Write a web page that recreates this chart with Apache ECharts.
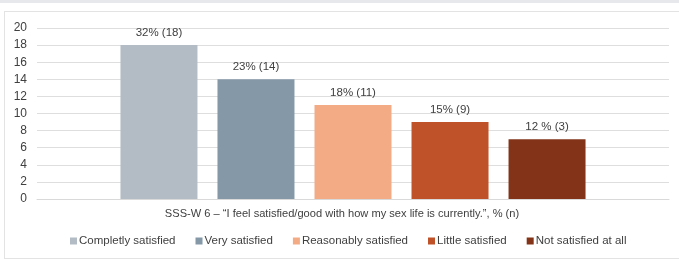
<!DOCTYPE html>
<html>
<head>
<meta charset="utf-8">
<script src="https://cdn.jsdelivr.net/npm/echarts@6/dist/echarts.min.js"></script>
<style>
  html, body { margin: 0; padding: 0; background: #fff; }
  .band { position: absolute; left: 0; top: 0; width: 679px; height: 3px; background: #e6e8eb; }
  .frame { position: absolute; left: 4px; top: 11px; width: 700px; height: 246px; border: 1px solid #e3e3e3; }
  #chart { position: absolute; left: 0; top: 0; width: 679px; height: 259px; }
</style>
</head>
<body>
<div class="band"></div>
<div class="frame"></div>
<div id="chart"></div>
<script>
// chart data
const category = "SSS-W 6 – \u201cI feel satisfied/good with how my sex life is currently.\u201d, % (n)";
const seriesNames = ["Completly satisfied", "Very satisfied", "Reasonably satisfied", "Little satisfied", "Not satisfied at all"];
const values = [18, 14, 11, 9, 7];
const labels = ["32% (18)", "23% (14)", "18% (11)", "15% (9)", "12 % (3)"];
const colors = ["#b3bcc5", "#8598a8", "#f2ab85", "#c05229", "#833418"];

const chart = echarts.init(document.getElementById("chart"));

const textFont = { fontFamily: "Liberation Sans, Arial, sans-serif", fontSize: 11.5, color: "#404040" };

const option = {
  animation: false,
  textStyle: { fontFamily: "Liberation Sans, Arial, sans-serif" },
  grid: { left: 37, right: 10, top: 28, bottom: 60, containLabel: false },
  legend: {
    bottom: 7,
    left: 65,
    icon: "rect",
    itemWidth: 7,
    itemHeight: 7,
    itemGap: 20,
    textStyle: { ...textFont, padding: [0, 0, 0, -3] },
    data: seriesNames
  },
  xAxis: {
    type: "category",
    data: [category],
    axisLine: { show: true, lineStyle: { color: "#d9d9d9" } },
    axisTick: { show: false },
    axisLabel: { ...textFont, fontSize: 11.1, margin: 9, padding: [0, 22, 0, 0] }
  },
  yAxis: {
    type: "value",
    min: 0,
    max: 20,
    interval: 2,
    axisLine: { show: false },
    axisTick: { show: false },
    splitLine: { lineStyle: { color: "#dedede", width: 1 } },
    axisLabel: { ...textFont, fontSize: 12, margin: 10 }
  },
  series: seriesNames.map((name, i) => ({
    name: name,
    type: "bar",
    data: [values[i]],
    barWidth: 77,
    barGap: "26%",
    itemStyle: { color: colors[i] },
    label: {
      show: true,
      position: "top",
      distance: 6,
      ...textFont,
      formatter: () => labels[i]
    }
  }))
};

chart.setOption(option);
</script>
</body>
</html>
